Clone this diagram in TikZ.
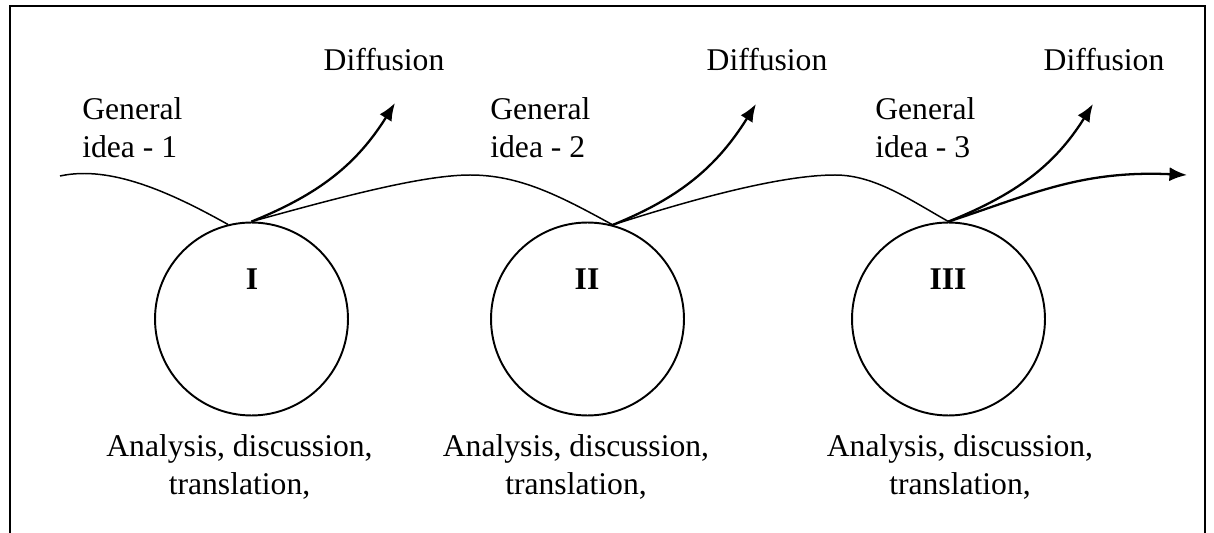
\documentclass[tikz,border=0pt]{standalone}
\usepackage{fontspec}
\setmainfont{Liberation Serif}
\usetikzlibrary{arrows.meta}

\begin{document}
\begin{tikzpicture}[x=0.02cm, y=-0.02cm,
  kreis/.style={circle, draw, line width=1.1pt, minimum size=3.86cm, inner sep=0pt},
  schrift/.style={font=\fontsize{18}{21.6}\selectfont, inner sep=0pt},
  nummer/.style={font=\fontsize{18}{21.6}\selectfont\bfseries, inner sep=0pt},
  welle/.style={line width=0.85pt},
  pfeil/.style={line width=1.3pt, -{Latex[length=10pt, width=8pt]}}]

  \useasboundingbox (0,0) rectangle (1214,533);

  % Rahmen
  \draw[line width=1.1pt] (10,533) -- (10,6) -- (1205,6) -- (1205,533);

  % Kreise
  \node[kreis] (k1) at (251.5,319) {};
  \node[kreis] (k2) at (587.5,319) {};
  \node[kreis] (k3) at (948.5,319) {};
  \node[nummer, anchor=base] (n1) at (252,290) {I};
  \node[nummer, anchor=base] (n2) at (587,290) {II};
  \node[nummer, anchor=base] (n3) at (948,290) {III};

  % Beschriftung
  \node[schrift, anchor=base] (diff1) at (384,71) {Diffusion};
  \node[schrift, anchor=base] (diff2) at (767,71) {Diffusion};
  \node[schrift, anchor=base] (diff3) at (1104,71) {Diffusion};
  \node[schrift, anchor=north west, align=left] (idee1) at (82,97) {General\\idea - 1};
  \node[schrift, anchor=north west, align=left] (idee2) at (490,97) {General\\idea - 2};
  \node[schrift, anchor=north west, align=left] (idee3) at (875,97) {General\\idea - 3};
  \node[schrift, anchor=north, align=center] (text1) at (239.5,434) {Analysis, discussion,\\translation,};
  \node[schrift, anchor=north, align=center] (text2) at (576,434) {Analysis, discussion,\\translation,};
  \node[schrift, anchor=north, align=center] (text3) at (960,434) {Analysis, discussion,\\translation,};

  % Welle
  \coordinate (anfang) at (60,176);
  \coordinate (ende) at (1187,175);
  \draw[welle] (anfang) .. controls (110,165) and (170,192) .. (k1.104);
  \draw[welle] (k1.north) .. controls (330,200) and (420,175) .. (470,175)
                          .. controls (520,175) and (560,196) .. (k2.75);
  \draw[welle] (k2.75) .. controls (690,200) and (780,175) .. (835,175)
                       .. controls (875,175) and (910,200) .. (k3.north);
  \draw[pfeil] (k3.north) .. controls (1030,195) and (1080,170) .. (ende);

  % Diffusion
  \coordinate (d1) at (395,103);
  \coordinate (d2) at (756,104);
  \coordinate (d3) at (1093,104);
  \draw[pfeil] (k1.north) to[out=22, in=238] (d1);
  \draw[pfeil] (k2.75) to[out=22, in=238] (d2);
  \draw[pfeil] (k3.north) to[out=22, in=238] (d3);
\end{tikzpicture}
\end{document}
